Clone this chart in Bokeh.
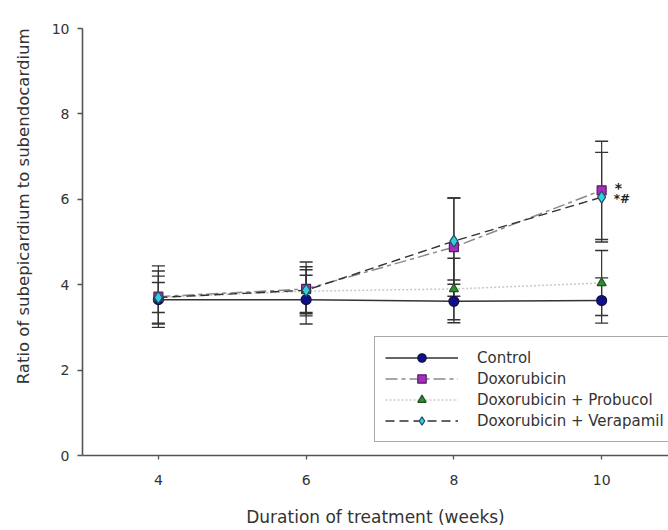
from bokeh.plotting import figure
from bokeh.models import (ColumnDataSource, Whisker, TeeHead, Legend, LegendItem,
                          FixedTicker, Range1d, Label, Title)
from bokeh.embed import file_html
from bokeh.resources import INLINE

# ---- data ----
weeks = [4, 6, 8, 10]
series_names = ["Control", "Doxorubicin", "Doxorubicin + Probucol", "Doxorubicin + Verapamil"]
control_mean = [3.65, 3.65, 3.61, 3.63]
control_err = [0.55, 0.57, 0.50, 0.53]
doxo_mean = [3.72, 3.90, 4.88, 6.21]
doxo_err = [0.72, 0.63, 1.15, 1.15]
probucol_mean = [3.70, 3.85, 3.90, 4.04]
probucol_err = [0.35, 0.50, 0.72, 0.76]
verapamil_mean = [3.70, 3.87, 5.02, 6.05]
verapamil_err = [0.62, 0.55, 1.01, 1.05]
x_ticks = [4, 6, 8, 10]
y_ticks = [0, 2, 4, 6, 8, 10]
sig_doxo = "*"
sig_verapamil = "*#"

FONT = "DejaVu Sans"
TXT = "#333333"

p = figure(width=668, height=530, output_backend="svg", toolbar_location=None,
           x_range=Range1d(2.973, 10.905), y_range=Range1d(0, 10),
           min_border_left=81, min_border_right=0, min_border_top=28,
           min_border_bottom=75)
p.outline_line_color = None
p.xgrid.grid_line_color = None
p.ygrid.grid_line_color = None
p.background_fill_color = "white"
p.border_fill_color = "white"

for ax in (p.xaxis[0], p.yaxis[0]):
    ax.axis_line_color = "#555555"
    ax.axis_line_width = 1.6
    ax.major_tick_line_color = "#555555"
    ax.major_tick_line_width = 1.3
    ax.minor_tick_line_color = None
    ax.major_tick_in = 0
    ax.major_label_text_font = FONT
    ax.major_label_text_font_size = "14px"
    ax.major_label_text_color = TXT

p.xaxis.ticker = FixedTicker(ticks=x_ticks)
p.yaxis.ticker = FixedTicker(ticks=y_ticks)
p.xaxis.major_tick_out = 4
p.yaxis.major_tick_out = 5
p.xaxis.major_label_standoff = 15
p.yaxis.major_label_standoff = 8
p.xaxis.axis_label = "Duration of treatment (weeks)"
p.xaxis.axis_label_text_font = FONT
p.xaxis.axis_label_text_font_size = "17px"
p.xaxis.axis_label_text_font_style = "normal"
p.xaxis.axis_label_text_color = TXT
p.xaxis.axis_label_standoff = 19

# y-axis title, aligned toward the top like the reference
ytitle = Title(text="Ratio of subepicardium to subendocardium", align="right", offset=0,
               standoff=27, vertical_align="top", text_font=FONT, text_font_size="16.5px",
               text_font_style="normal", text_color=TXT)
p.add_layout(ytitle, "left")

specs = [
    (control_mean, control_err, dict(line_color="#333333", line_width=1.5, line_dash="solid"),
     dict(marker="circle", size=10, fill_color="#10108a", line_color="#101040")),
    (doxo_mean, doxo_err, dict(line_color="#8a8a8a", line_width=1.5, line_dash="12 4 4 4"),
     dict(marker="square", size=9, fill_color="#a82cc0", line_color="#502060")),
    (probucol_mean, probucol_err, dict(line_color="#c8c8c8", line_width=1.5, line_dash="2 2"),
     dict(marker="triangle", size=9, fill_color="#2f8f2f", line_color="#205020")),
    (verapamil_mean, verapamil_err, dict(line_color="#303030", line_width=1.4, line_dash="9 5"),
     dict(marker="diamond", size=12, fill_color="#30d0e0", line_color="#205060")),
]

line_rs, scat_rs, sources = [], [], []
for mean, err, lsty, msty in specs:
    src = ColumnDataSource(dict(x=weeks, y=mean,
                                upper=[m + e for m, e in zip(mean, err)],
                                lower=[m - e for m, e in zip(mean, err)]))
    sources.append(src)
    line_rs.append(p.line("x", "y", source=src, **lsty))

for src in sources:
    w = Whisker(source=src, base="x", upper="upper", lower="lower", dimension="height",
                line_color="#333333", line_width=1.2,
                upper_head=TeeHead(size=13, line_color="#333333", line_width=1.4),
                lower_head=TeeHead(size=13, line_color="#333333", line_width=1.4))
    p.add_layout(w)

for src, (mean, err, lsty, msty) in zip(sources, specs):
    scat_rs.append(p.scatter("x", "y", source=src, line_width=1.2, **msty))

# significance marks at the last time point
p.add_layout(Label(x=weeks[-1], y=doxo_mean[-1], x_offset=13, y_offset=2, text=sig_doxo,
                   text_font=FONT, text_font_size="14px", text_font_style="bold",
                   text_color="#222222", text_baseline="middle"))
p.add_layout(Label(x=weeks[-1], y=verapamil_mean[-1], x_offset=12, y_offset=-2, text=sig_verapamil,
                   text_font=FONT, text_font_size="12px", text_font_style="bold",
                   text_color="#222222", text_baseline="middle"))

items = [LegendItem(label=n, renderers=[l, s]) for n, l, s in zip(series_names, line_rs, scat_rs)]
legend = Legend(items=items, location=(292, 13), margin=0, padding=10, spacing=0,
                glyph_width=73, glyph_height=21, label_height=21, label_standoff=19,
                label_text_font=FONT, label_text_font_size="15px", label_text_color=TXT,
                border_line_color="#555555", border_line_width=1.2,
                background_fill_color="white", background_fill_alpha=1.0)
p.add_layout(legend)

open("out.html", "w").write(file_html(p, INLINE))
